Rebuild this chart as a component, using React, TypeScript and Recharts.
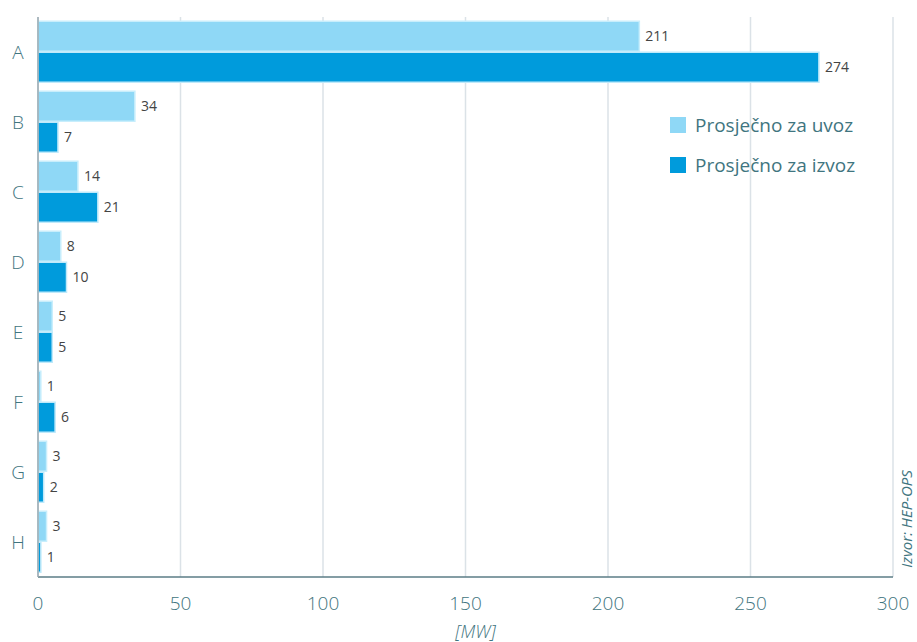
import React from 'react';
import { BarChart, Bar, XAxis, YAxis, CartesianGrid, LabelList } from 'recharts';

const categories = ['A', 'B', 'C', 'D', 'E', 'F', 'G', 'H'];
const uvoz = [211, 34, 14, 8, 5, 1, 3, 3];
const izvoz = [274, 7, 21, 10, 5, 6, 2, 1];
const xTicks = [0, 50, 100, 150, 200, 250, 300];

const data = categories.map((name, i) => ({ name, uvoz: uvoz[i], izvoz: izvoz[i] }));

const LIGHT = '#8fd8f6';
const DARK = '#009bdc';
const TEAL = '#3f7580';
const FONT = '"Open Sans", Lato, sans-serif';

const CategoryTick = ({ y, payload }: any) => (
    <text x={18} y={y} dy={7} textAnchor="middle" fill={TEAL} fontSize={19} fontFamily={FONT} fontWeight={300}>
        {payload.value}
    </text>
);

const LegendBox = () => (
    <div style={{ position: 'absolute', left: 670, top: 105, fontFamily: FONT, fontSize: 19, color: TEAL }}>
        {[
            { c: LIGHT, t: 'Prosječno za uvoz' },
            { c: DARK, t: 'Prosječno za izvoz' },
        ].map((item) => (
            <div key={item.t} style={{ display: 'flex', alignItems: 'center', height: 40 }}>
                <span style={{ width: 16, height: 16, background: item.c, marginRight: 9, display: 'inline-block' }} />
                {item.t}
            </div>
        ))}
    </div>
);

export default function App() {
    return (
        <div style={{ position: 'absolute', left: 0, top: 0, width: 917, height: 642, background: '#fff' }}>
            <BarChart
                width={917}
                height={642}
                data={data}
                layout="vertical"
                margin={{ top: 17, right: 24, left: 0, bottom: 0 }}
                barCategoryGap="6%"
                barGap={1}
            >
                <CartesianGrid horizontal={false} stroke="#dbe2e7" strokeWidth={1.5} />
                <XAxis
                    type="number"
                    domain={[0, 300]}
                    ticks={xTicks}
                    height={65}
                    tick={{ fill: TEAL, fontSize: 19, fontFamily: FONT, fontWeight: 300 }}
                    tickLine={false}
                    tickMargin={14}
                    axisLine={{ stroke: '#5b7c86', strokeWidth: 1.5 }}
                    label={{
                        value: '[MW]',
                        position: 'insideBottom',
                        offset: 4,
                        fill: TEAL,
                        fontSize: 18,
                        fontStyle: 'italic',
                        fontFamily: FONT,
                        fontWeight: 300,
                        dx: 10,
                    }}
                />
                <YAxis
                    type="category"
                    dataKey="name"
                    width={38}
                    tick={<CategoryTick />}
                    tickLine={false}
                    axisLine={{ stroke: '#9aa9b0', strokeWidth: 1.5 }}
                />
                <Bar dataKey="uvoz" fill={LIGHT} stroke="#c8eefc" strokeWidth={1.5} isAnimationActive={false}>
                    <LabelList dataKey="uvoz" position="right" offset={6} fill="#444" fontSize={14} fontFamily={FONT} />
                </Bar>
                <Bar dataKey="izvoz" fill={DARK} stroke="#bfe9fa" strokeWidth={1.5} isAnimationActive={false}>
                    <LabelList dataKey="izvoz" position="right" offset={6} fill="#444" fontSize={14} fontFamily={FONT} />
                </Bar>
            </BarChart>
            <LegendBox />
            <div
                style={{
                    position: 'absolute',
                    left: 906,
                    top: 519,
                    transform: 'translate(-50%, -50%) rotate(-90deg)',
                    whiteSpace: 'nowrap',
                    fontFamily: FONT,
                    fontStyle: 'italic',
                    fontSize: 15,
                    color: TEAL,
                }}
            >
                Izvor: HEP-OPS
            </div>
        </div>
    );
}
